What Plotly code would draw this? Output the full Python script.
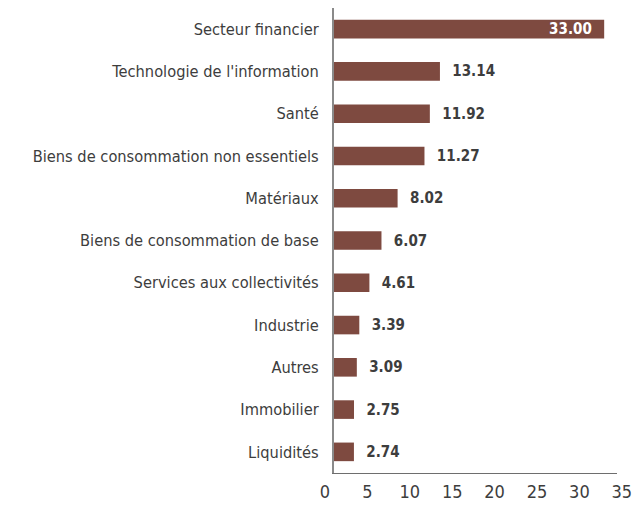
import plotly.graph_objects as go

categories = [
    "Secteur financier",
    "Technologie de l'information",
    "Santé",
    "Biens de consommation non essentiels",
    "Matériaux",
    "Biens de consommation de base",
    "Services aux collectivités",
    "Industrie",
    "Autres",
    "Immobilier",
    "Liquidités",
]
values = [33.00, 13.14, 11.92, 11.27, 8.02, 6.07, 4.61, 3.39, 3.09, 2.75, 2.74]
x_ticks = [0, 5, 10, 15, 20, 25, 30, 35]

BAR = "#7e4a40"
TXT = "#3d3d3d"
FONT = "DejaVu Sans Condensed, Liberation Sans Narrow, sans-serif"

positions = ["inside" if i == 0 else "outside" for i in range(len(values))]
templates = ["%{x:.2f}\u00a0\u00a0" if i == 0 else "\u00a0\u00a0%{x:.2f}" for i in range(len(values))]

fig = go.Figure()
fig.add_trace(go.Bar(
    y=categories, x=values, orientation="h",
    marker=dict(color=BAR, line=dict(width=0)),
    width=0.44,
    texttemplate=templates,
    textposition=positions,
    insidetextanchor="end",
    constraintext="none",
    insidetextfont=dict(family=FONT, size=15, color="white", weight="bold"),
    outsidetextfont=dict(family=FONT, size=15, color=TXT, weight="bold"),
    cliponaxis=False,
    hoverinfo="skip",
    showlegend=False,
))
fig.add_trace(go.Scatter(
    x=x_ticks, y=[categories[0]] * len(x_ticks), xaxis="x2", yaxis="y",
    mode="markers", marker=dict(opacity=0), hoverinfo="skip", showlegend=False,
))

fig.update_layout(
    template="none",
    width=634, height=506,
    margin=dict(l=308, r=12, t=0, b=41, autoexpand=False),
    paper_bgcolor="white", plot_bgcolor="rgba(0,0,0,0)",
    font=dict(family=FONT, color=TXT),
    xaxis=dict(
        domain=[18 / 314, 301 / 314], range=[0.33, 34.55], automargin=False,
        showgrid=False, zeroline=False, showticklabels=False, ticks="",
        showline=True, linecolor="#6e6e6e", linewidth=1, anchor="y",
    ),
    xaxis2=dict(
        domain=[0, 1], range=[-1.06, 35.97], anchor="y", automargin=False,
        tickvals=x_ticks, showgrid=False, zeroline=False, showline=False,
        ticks="", tickfont=dict(family=FONT, size=18, color=TXT),
        ticklabelstandoff=6,
    ),
    yaxis=dict(
        range=[len(categories) - 0.5, -0.5], anchor="x", showgrid=False,
        zeroline=False, automargin=False,
        showline=True, linecolor="#8a8a8a", linewidth=2, ticks="",
        tickfont=dict(family=FONT, size=16.3, color=TXT),
        ticklabelstandoff=10,
    ),
    bargap=0.56,
)

fig.write_html("out.html")
